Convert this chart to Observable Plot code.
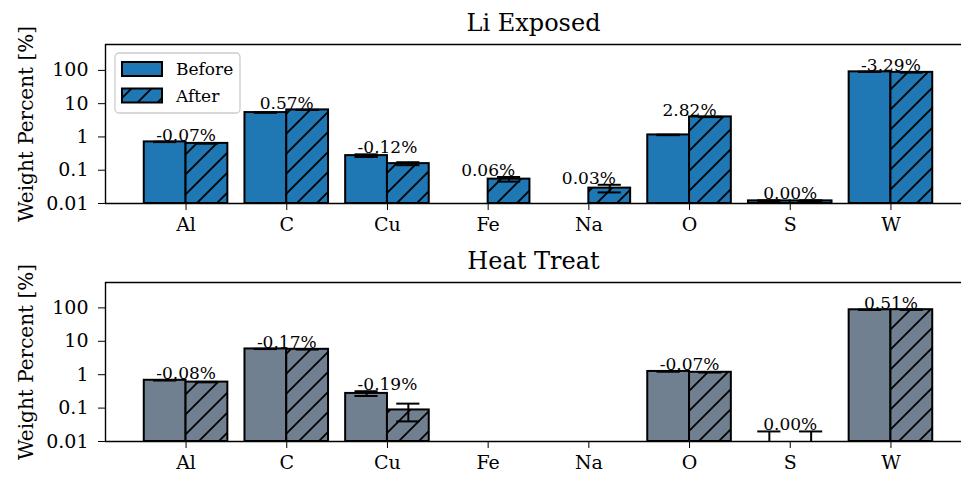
<!DOCTYPE html>
<html>
<head>
<meta charset="utf-8">
<script src="https://cdn.jsdelivr.net/npm/d3@7"></script>
<script src="https://cdn.jsdelivr.net/npm/@observablehq/plot@0.6"></script>
<style>
  body { margin: 0; background: #fff; }
  #chart svg { display: block; }
</style>
</head>
<body>
<svg width="0" height="0" style="position:absolute">
  <defs>
    <pattern id="hatchBlue" patternUnits="userSpaceOnUse" width="20" height="20">
      <rect width="20" height="20" fill="#1f77b4"></rect>
      <path d="M-5,5 L5,-5 M0,20 L20,0 M15,25 L25,15" stroke="#000" stroke-width="1.8"></path>
    </pattern>
    <pattern id="hatchGray" patternUnits="userSpaceOnUse" width="20" height="20">
      <rect width="20" height="20" fill="#708090"></rect>
      <path d="M-5,5 L5,-5 M0,20 L20,0 M15,25 L25,15" stroke="#000" stroke-width="1.8"></path>
    </pattern>
  </defs>
</svg>
<div id="chart"></div>
<script>
// ---- data ----
const elements = ["Al", "C", "Cu", "Fe", "Na", "O", "S", "W"];
const seriesNames = ["Before", "After"];
const yTicks = [0.01, 0.1, 1, 10, 100];
const yTickLabels = ["0.01", "0.1", "1", "10", "100"];

const liTitle = "Li Exposed";
const liBefore    = [0.71, 5.4, 0.275, null, null, 1.15, 0.012, 90.5];
const liBeforeErr = [0.01, 0.05, 0.025, null, null, 0.02, 0.0005, 0.5];
const liAfter     = [0.64, 6.5, 0.158, 0.054, 0.029, 4.0, 0.012, 87.2];
const liAfterErr  = [0.01, 0.05, 0.016, 0.0085, 0.0075, 0.05, 0.0005, 0.5];
const liLabels    = ["-0.07%", "0.57%", "-0.12%", "0.06%", "0.03%", "2.82%", "0.00%", "-3.29%"];

const htTitle = "Heat Treat";
const htBefore    = [0.68, 5.9, 0.275, null, null, 1.25, 0, 87.7];
const htBeforeErr = [0.01, 0.05, 0.045, null, null, 0.02, 0.02, 0.5];
const htAfter     = [0.60, 5.75, 0.088, null, null, 1.18, 0, 88.2];
const htAfterErr  = [0.01, 0.05, 0.048, null, null, 0.02, 0.02, 0.5];
const htLabels    = ["-0.08%", "-0.17%", "-0.19%", null, null, "-0.07%", "0.00%", "0.51%"];

// ---- layout constants ----
const Y_MIN = 0.01;
const BAR_W = 0.415;
const CAP_HALF = 0.115;
const FONT = "DejaVu Serif";

function buildRows(before, beforeErr, after, afterErr) {
  const out = [];
  elements.forEach((el, i) => {
    [[before[i], beforeErr[i], "Before", -1], [after[i], afterErr[i], "After", 0]].forEach(([v, e, s, side]) => {
      if (v == null) return;
      const x1 = i + side * BAR_W;
      out.push({el, i, series: s, value: v, err: e || 0, x1, x2: x1 + BAR_W, xc: x1 + BAR_W / 2});
    });
  });
  return out;
}

function buildLabels(rows, labels) {
  return elements.map((el, i) => {
    if (labels[i] == null) return null;
    const r = rows.filter(d => d.i === i);
    return {i, text: labels[i], y: d3.max(r, d => d.value + d.err)};
  }).filter(d => d);
}

function panel({title, before, beforeErr, after, afterErr, labels, color, hatch, yMax, height, marginTop, marginBottom}) {
  const rows = buildRows(before, beforeErr, after, afterErr);
  const barRows = rows.filter(d => d.value > 0);
  const errRows = rows.filter(d => d.err > 0);
  const lowCaps = errRows.filter(d => d.value - d.err > Y_MIN);
  const labelRows = buildLabels(rows, labels);
  return Plot.plot({
    width: 961,
    height,
    marginLeft: 105,
    marginRight: 0,
    marginTop,
    marginBottom,
    style: {fontFamily: FONT, color: "#000", background: "transparent"},
    x: {type: "linear", domain: [-0.8, 7.8], range: [105, 971]},
    y: {type: "log", domain: [Y_MIN, yMax]},
    marks: [
      Plot.rectY(barRows, {x1: "x1", x2: "x2", y1: Y_MIN, y2: "value",
        fill: d => d.series === "Before" ? color : `url(#${hatch})`,
        stroke: "#000", strokeWidth: 2}),
      Plot.ruleX(errRows, {x: "xc", y1: d => Math.max(d.value - d.err, Y_MIN), y2: d => d.value + d.err,
        stroke: "#000", strokeWidth: 2}),
      Plot.ruleY(errRows, {y: d => d.value + d.err, x1: d => d.xc - CAP_HALF, x2: d => d.xc + CAP_HALF,
        stroke: "#000", strokeWidth: 2}),
      Plot.ruleY(lowCaps, {y: d => d.value - d.err, x1: d => d.xc - CAP_HALF, x2: d => d.xc + CAP_HALF,
        stroke: "#000", strokeWidth: 2}),
      Plot.text(labelRows, {x: "i", y: "y", text: "text", textAnchor: "middle", lineAnchor: "bottom",
        dy: -1, fontSize: 17, fontFamily: FONT, fill: "#000"}),
      Plot.axisX({ticks: elements.map((_, i) => i), tickFormat: i => elements[i],
        tickSize: 7, tickPadding: 7, fontSize: 19, fontFamily: FONT, label: null}),
      Plot.axisY({ticks: yTicks, tickFormat: v => yTickLabels[yTicks.indexOf(v)],
        tickSize: 7, tickPadding: 10, fontSize: 19, fontFamily: FONT, label: null}),
      Plot.ruleY([Y_MIN], {stroke: "#000", strokeWidth: 1.4}),
      Plot.ruleY([yMax], {stroke: "#000", strokeWidth: 1.4}),
      Plot.ruleX([-0.8], {stroke: "#000", strokeWidth: 1.4}),
      Plot.text([title], {frameAnchor: "top", lineAnchor: "bottom", dy: -14, fontSize: 24,
        fontFamily: FONT, fill: "#000"}),
      Plot.text(["Weight Percent [%]"], {frameAnchor: "left", rotate: -90, lineAnchor: "middle",
        textAnchor: "middle", dx: -79, fontSize: 20, fontFamily: FONT, fill: "#000"})
    ]
  });
}

const chartEl = document.getElementById("chart");

const topPanel = panel({title: liTitle, before: liBefore, beforeErr: liBeforeErr, after: liAfter, afterErr: liAfterErr,
  labels: liLabels, color: "#1f77b4", hatch: "hatchBlue", yMax: 600, height: 240, marginTop: 44, marginBottom: 37});
chartEl.appendChild(topPanel);

// legend (upper left of the top panel)
{
  const g = d3.select(topPanel).append("g").attr("font-family", FONT).attr("font-size", 17)
    .attr("text-anchor", "start");
  g.append("rect").attr("x", 115).attr("y", 53).attr("width", 125).attr("height", 60).attr("rx", 4)
    .attr("fill", "#fff").attr("fill-opacity", 0.8).attr("stroke", "#cccccc").attr("stroke-width", 1.3);
  const fills = ["#1f77b4", "url(#hatchBlue)"];
  seriesNames.forEach((s, k) => {
    const y = 62 + k * 26.5;
    g.append("rect").attr("x", 122).attr("y", y).attr("width", 40).attr("height", 14)
      .attr("fill", fills[k]).attr("stroke", "#000").attr("stroke-width", 2);
    g.append("text").attr("x", 176).attr("y", y + 13).attr("fill", "#000").text(s);
  });
}

const bottomPanel = panel({title: htTitle, before: htBefore, beforeErr: htBeforeErr, after: htAfter, afterErr: htAfterErr,
  labels: htLabels, color: "#708090", hatch: "hatchGray", yMax: 575, height: 239, marginTop: 42, marginBottom: 38});
chartEl.appendChild(bottomPanel);
</script>
</body>
</html>
